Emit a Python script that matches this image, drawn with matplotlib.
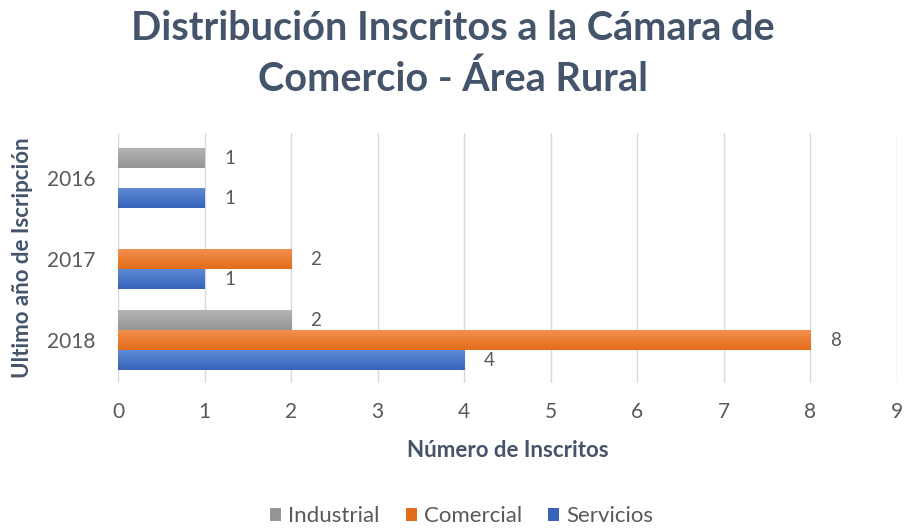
import numpy as np
import matplotlib.pyplot as plt
from matplotlib.colors import LinearSegmentedColormap

# Datos
years = ['2016', '2017', '2018']
industrial = [1, 0, 2]
comercial = [0, 2, 8]
servicios = [1, 1, 4]
x_ticks = list(range(0, 10))

# Estilo
plt.rcParams['font.family'] = ['Lato', 'DejaVu Sans']
txt_color = '#44546A'
tick_color = '#595959'
colors = {
    'Industrial': ('#b4b4b4', '#959595'),
    'Comercial': ('#f3904f', '#e36c1a'),
    'Servicios': ('#5d89d6', '#3763b8'),
}

fig = plt.figure(figsize=(9.05, 5.29), dpi=100, facecolor='white')
ax = fig.add_axes([0.1304, 0.276, 0.8608, 0.4726])

pos = np.arange(len(years))[::-1]  # 2016 arriba
h = 0.247
series = [('Industrial', industrial, h), ('Comercial', comercial, 0.0), ('Servicios', servicios, -h)]

for name, vals, off in series:
    light, dark = colors[name]
    bars = ax.barh(pos + off, vals, height=h, color=dark, label=name, zorder=3, linewidth=0)
    # degradado vertical tipo Excel
    cmap = LinearSegmentedColormap.from_list(name, [light, dark])
    grad = np.linspace(0, 1, 64).reshape(-1, 1)
    for b in bars:
        if b.get_width() == 0:
            continue
        x0, y0 = b.get_x(), b.get_y()
        im = ax.imshow(grad, cmap=cmap, aspect='auto', origin='upper',
                       extent=(x0, x0 + b.get_width(), y0, y0 + b.get_height()), zorder=4)
        im.set_clip_path(b)
    labels = [str(v) if v else '' for v in vals]
    ax.bar_label(bars, labels=labels, padding=14, fontsize=13.5, color=tick_color, zorder=5)

ax.set_xlim(0, 9)
ax.set_ylim(-0.53, 2.56)
ax.set_xticks(x_ticks)
ax.set_yticks(pos)
ax.set_yticklabels(years)
ax.tick_params(axis='both', length=0, labelsize=15, labelcolor=tick_color)
ax.tick_params(axis='x', pad=14)
ax.tick_params(axis='y', pad=16)
for s in ax.spines.values():
    s.set_visible(False)
ax.xaxis.grid(True, color='#D9D9D9', linewidth=1, zorder=0)
ax.set_axisbelow(True)

ax.set_xlabel('Número de Inscritos', fontsize=16, fontweight='bold', color=txt_color, labelpad=13)
ax.set_ylabel('Ultimo año de Iscripción', fontsize=16, fontweight='bold', color=txt_color, labelpad=10)

fig.text(0.5, 0.898, 'Distribución Inscritos a la Cámara de\nComercio - Área Rural',
         ha='center', va='center', fontsize=28.5, fontweight='bold', color=txt_color, linespacing=1.45)

handles, lbls = ax.get_legend_handles_labels()
fig.legend(handles, lbls, loc='center', bbox_to_anchor=(0.51, 0.024), ncol=3, frameon=False,
           fontsize=16, labelcolor=tick_color, handlelength=0.5, handleheight=0.5,
           handletextpad=0.3, columnspacing=1.2)

fig.savefig('out.png', dpi=100, facecolor='white')
